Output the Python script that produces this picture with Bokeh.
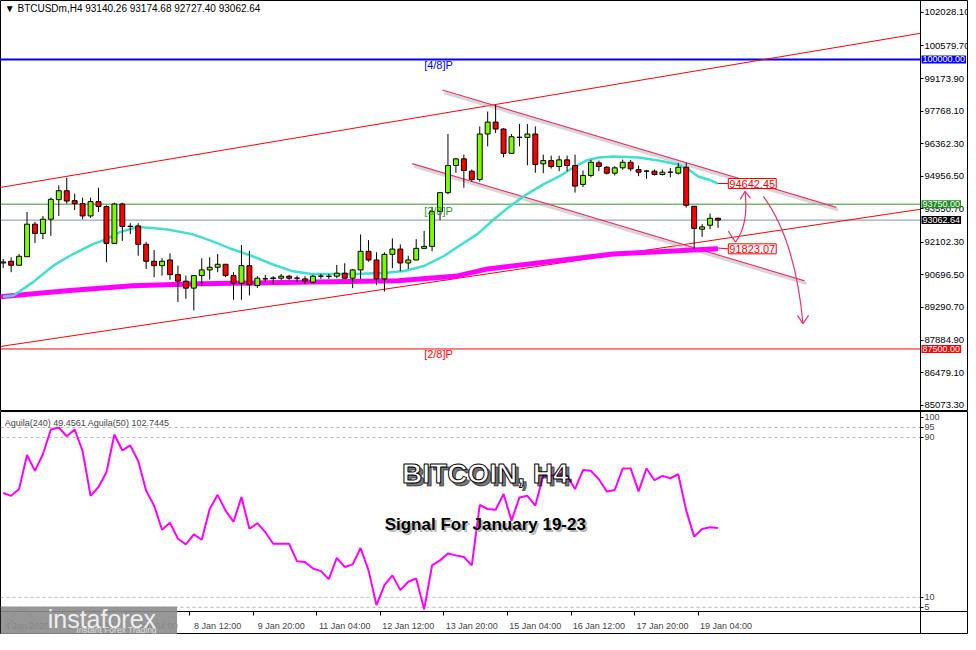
from bokeh.plotting import figure
from bokeh.layouts import column
from bokeh.models import (Range1d, FixedTicker, Label, NumeralTickFormatter, LinearAxis,
                          ColumnDataSource, BoxAnnotation)
from bokeh.embed import file_html
from bokeh.resources import INLINE

FONT = "Liberation Sans"

# ---------------- data ----------------
candle_index = list(range(91))
opens = [91212, 91285, 91113, 91482, 92886, 92487, 93101, 93946, 94332, 93903,
         93774, 93242, 93860, 93646, 92058, 93757, 92787, 92813, 92015, 91285,
         91096, 91341, 90710, 90427, 90126, 90667, 90912, 91027, 91156, 90667,
         90341, 91096, 90238, 90525, 90538, 90555, 90641, 90555, 90525, 90384,
         90641, 90641, 90641, 90770, 90555, 90912, 91714, 91341, 90525, 91585,
         91813, 91212, 91341, 91843, 91929, 93431, 94247, 95418, 95706, 95174,
         94817, 96779, 97294, 96993, 95946, 96633, 96633, 96779, 95491, 95633,
         95375, 95663, 95418, 94603, 94989, 95534, 95345, 95088, 95320, 95560,
         95247, 95174, 95174, 95032, 95131, 95088, 95345, 93659, 92671, 92843,
         93140.26]
highs = [91384, 91457, 91598, 93414, 92985, 93242, 94032, 94560, 94890, 94204,
         94032, 94032, 94461, 93701, 93817, 93817, 92929, 92929, 92126, 91770,
         91414, 91628, 91096, 90667, 90667, 91414, 91457, 91598, 91156, 90813,
         91985, 91740, 90641, 90697, 90641, 90740, 90697, 90667, 90641, 90697,
         90740, 90740, 91126, 91199, 90955, 92444, 92199, 91671, 91671, 92272,
         92015, 91525, 92242, 92598, 93629, 94247, 96779, 95749, 95890, 95247,
         97105, 97749, 98036, 97036, 96779, 97208, 97208, 97105, 95890, 95847,
         95847, 95847, 95890, 95204, 95663, 95633, 95388, 95388, 95676, 95663,
         95418, 95234, 95247, 95247, 95320, 95534, 95534, 93659, 92886, 93345,
         93174.68]
lows = [90998, 90813, 91096, 91482, 92071, 92242, 92384, 93242, 93774, 93500,
        93101, 93156, 93414, 91242, 92058, 92169, 92457, 91525, 90955, 90598,
        90667, 90482, 89525, 89667, 89165, 90212, 90495, 90813, 90598, 89624,
        89624, 89809, 90139, 90384, 90311, 90482, 90482, 90384, 90311, 90341,
        90525, 90525, 90555, 90525, 90126, 90525, 91268, 90268, 89980, 90985,
        90856, 90955, 91341, 91843, 91714, 93058, 94174, 95105, 94461, 94719,
        94719, 96247, 96822, 95774, 95920, 96247, 95431, 95105, 95088, 95290,
        95174, 95174, 94247, 94487, 94916, 95174, 95032, 94989, 95234, 95174,
        94959, 94847, 94989, 94989, 94916, 95032, 93603, 91823, 92341, 92671,
        92727.40]
closes = [91255, 91113, 91500, 92886, 92487, 93101, 93959, 94332, 93886, 93774,
          93242, 93860, 93646, 92058, 93757, 92787, 92800, 92015, 91285, 91096,
          91285, 90710, 90427, 90126, 90667, 90912, 91027, 91156, 90667, 90341,
          91096, 90268, 90555, 90530, 90568, 90641, 90555, 90560, 90427, 90641,
          90645, 90627, 90770, 90555, 90912, 91714, 91341, 90525, 91585, 91813,
          91212, 91341, 91843, 91929, 93431, 94247, 95418, 95706, 95204, 94817,
          96779, 97294, 96993, 95946, 96663, 96640, 96779, 95461, 95633, 95375,
          95663, 95418, 94530, 94989, 95560, 95375, 95088, 95320, 95560, 95277,
          95131, 95180, 95032, 95131, 95135, 95345, 93701, 92702, 92770, 93140,
          93062.64]

# moving averages (sparse readings: candle index, price)
fast_ma_idx = [0, 1.3, 3.8, 6.3, 8.8, 11.3, 13, 14.7, 16.8, 17.5, 20.5, 23.8, 26.3,
               28.8, 31.3, 33.8, 36.3, 38.8, 43.8, 48, 50.5, 53, 55.5, 57.2, 59.7,
               61.8, 63.8, 65.9, 68, 70, 71.8, 73.4, 75, 76.8, 80, 82.5, 85, 86.3,
               87.5, 88.8, 90]
fast_ma_val = [89753, 89809, 90397, 91096, 91598, 92028, 92242, 92543, 92757, 92757,
               92671, 92457, 92156, 91813, 91513, 91169, 90869, 90740, 90740, 90783,
               90869, 91083, 91513, 91899, 92457, 93101, 93659, 94174, 94603, 94946,
               95332, 95633, 95762, 95805, 95762, 95633, 95461, 95247, 94946, 94817,
               94642]
slow_ma_idx = [-0.34, 8, 16.3, 24.7, 33, 41.3, 49.7, 57.2, 61, 76.8, 90]
slow_ma_val = [89753, 90010, 90225, 90311, 90354, 90397, 90440, 90654, 90955, 91598, 91823]

# indicator (Aguila 240)
aguila = [62.2, 60.8, 64.2, 81.2, 73.3, 81.6, 94.0, 95.0, 90.6, 94.0,
          83.2, 60.8, 65.2, 72.6, 91.5, 83.5, 86.0, 78.2, 63.3, 55.9,
          43.8, 47.3, 39.3, 36.5, 41.5, 38.8, 54.2, 61.3, 53.4, 47.8,
          60.2, 44.3, 47.1, 42.6, 36.8, 36.8, 36.8, 28.0, 27.7, 24.4,
          23.1, 19.1, 29.7, 25.2, 26.5, 34.7, 23.5, 6.1, 16.1, 21.0,
          13.6, 17.8, 19.4, 4.0, 26.0, 28.5, 31.9, 31.0, 30.2, 26.0,
          56.2, 54.2, 53.8, 61.7, 48.4, 60.0, 60.8, 55.9, 70.8, 70.8,
          71.6, 70.8, 64.2, 73.7, 73.3, 69.1, 63.0, 63.7, 74.5, 74.5,
          63.0, 74.5, 68.6, 70.8, 69.6, 71.6, 53.4, 40.4, 44.2, 45.1,
          44.7]

price_ticks = [85073.3, 86479.1, 87884.9, 89290.7, 90696.5, 92102.3, 93550.7,
               94956.5, 96362.3, 97768.1, 99173.9, 100579.7, 102028.1]
level_ticks = [5, 10, 90, 95, 100]
level_dashes = [5, 10, 90, 95]

time_tick_idx = [0, 8, 16, 24, 32, 40, 48, 56, 64, 72, 80, 88]
time_labels = ["4 Jan 2025", "5 Jan 20:00", "7 Jan 04:00", "8 Jan 12:00", "9 Jan 20:00",
               "11 Jan 04:00", "12 Jan 12:00", "13 Jan 20:00", "15 Jan 04:00",
               "16 Jan 12:00", "17 Jan 20:00", "19 Jan 04:00"]

murray_levels = [100000.0, 93750.0, 87500.0]
murray_names = ["[4/8]P", "[3/8]P", "[2/8]P"]
murray_colors = ["#0000ff", "#2f9a1f", "#ff0000"]
current_price = 93062.64

# trend lines (candle index, price)
red_x0 = [-0.34, -0.34]
red_y0 = [94474, 87607]
red_x1 = [115.5, 115.5]
red_y1 = [101127, 93530]
pink_x0 = [55.3, 51.5]
pink_y0 = [98680, 95504]
pink_x1 = [104.9, 100.9]
pink_y1 = [93615, 90440]

target_up = 94642.45
target_down = 91823.07

# ---------------- geometry ----------------
X0 = -0.34          # left edge of the chart (candle units)
XA = 115.5          # price axis position
XE = 121.54         # right edge of the page area
W = 968

# ---------------- main price panel ----------------
p = figure(width=W, height=411, x_range=Range1d(X0, XE), y_range=Range1d(84800, 102543),
           output_backend="svg", toolbar_location=None, x_axis_location=None,
           y_axis_location=None, min_border=0)
p.grid.visible = False
p.outline_line_color = "black"

ax = LinearAxis(fixed_location=XA, ticker=FixedTicker(ticks=price_ticks),
                formatter=NumeralTickFormatter(format="0.00"))
ax.major_label_text_font = FONT
ax.major_label_text_font_size = "9.5px"
ax.major_label_text_color = "black"
ax.major_tick_out = 3
ax.major_tick_in = 0
ax.minor_tick_out = 0
ax.minor_tick_in = 0
ax.major_label_standoff = 1
ax.axis_line_color = "black"
p.add_layout(ax, "right")

# horizontal levels (stop at the price axis)
p.segment(x0=[X0] * 3, y0=murray_levels, x1=[XA] * 3, y1=murray_levels,
          line_color=murray_colors, line_width=[2, 1, 1])
p.segment(x0=[X0], y0=[current_price], x1=[XA], y1=[current_price],
          line_color="#8090a8", line_width=1)

# red channel
p.segment(x0=red_x0, y0=red_y0, x1=red_x1, y1=red_y1, line_color="#ff0000", line_width=1)
# pink descending channel with shadow
p.segment(x0=[v + 0.25 for v in pink_x0], y0=[v - 120 for v in pink_y0],
          x1=[v + 0.25 for v in pink_x1], y1=[v - 120 for v in pink_y1],
          line_color="#b0b0b0", line_width=3, line_alpha=0.5)
p.segment(x0=pink_x0, y0=pink_y0, x1=pink_x1, y1=pink_y1, line_color="#e8336a", line_width=1.2)

# moving averages
p.line(slow_ma_idx, slow_ma_val, line_color="#ff00ff", line_width=5)
p.line(fast_ma_idx, fast_ma_val, line_color="#40e0d0", line_width=2.5)

# candles
body_top = [max(o, c) for o, c in zip(opens, closes)]
body_bot = [min(o, c) for o, c in zip(opens, closes)]
body_col = ["#7cfc00" if c > o else ("#ff0000" if c < o else "black")
            for o, c in zip(opens, closes)]
src = ColumnDataSource(dict(x=candle_index, h=highs, l=lows, top=body_top,
                            bottom=body_bot, color=body_col))
p.segment(x0="x", y0="l", x1="x", y1="h", source=src, line_color="black", line_width=1)
p.vbar(x="x", width=0.62, top="top", bottom="bottom", source=src,
       fill_color="color", line_color="black", line_width=1)

# level names
for lvl_y, name, col in zip([99753, 93443, 87263], murray_names, murray_colors):
    p.add_layout(Label(x=53, y=lvl_y, text=name, text_color=col, text_font=FONT,
                       text_font_size="11px", text_baseline="middle"))

# connectors and target boxes
p.segment(x0=[90, 90], y0=[target_up, 91856], x1=[91.3, 91.3], y1=[target_up, target_down],
          line_color="#ff0000", line_width=1)
for ty in [target_up, target_down]:
    p.add_layout(Label(x=91.3, y=ty, text=f"{ty:.2f}", text_color="#ff0000",
                       text_font=FONT, text_font_size="11px", text_baseline="middle",
                       background_fill_color="white", border_line_color="#ff0000",
                       padding=1))

# arrows
p.segment(x0=[91.3], y0=[92586], x1=[92.2], y1=[92113], line_color="#e8336a", line_width=1.2)
p.quadratic(x0=[92.2], y0=[92113], x1=[93.4], y1=[94302], cx=[93.9], cy=[92886],
            line_color="#e8336a", line_width=1.2)
p.segment(x0=[93.4, 93.4], y0=[94302, 94302], x1=[92.8, 94.1], y1=[93959, 94002],
          line_color="#e8336a", line_width=1.2)
p.quadratic(x0=[95.7], y0=[94088], x1=[100.7], y1=[88595], cx=[99.7], cy=[92242],
            line_color="#e8336a", line_width=1.2)
p.segment(x0=[100.7, 100.7], y0=[88595, 88595], x1=[100.0, 101.4], y1=[88952, 88952],
          line_color="#e8336a", line_width=1.2)

# axis price boxes
for val, bg in [(100000.0, "#0000ff"), (93750.0, "#228b22"), (current_price, "black"),
                (87500.0, "#ff0000")]:
    p.add_layout(Label(x=XA, x_offset=1, y=val, text=f"{val:.2f}", text_color="white",
                       text_font=FONT, text_font_size="9px", text_baseline="middle",
                       background_fill_color=bg, padding=1))

# header
p.add_layout(Label(x=0.2, y=102200, text="\u25bc BTCUSDm,H4  93140.26 93174.68 92727.40 93062.64",
                   text_font=FONT, text_font_size="10px", text_baseline="middle",
                   text_color="black"))

# ---------------- indicator panel ----------------
IB = 2.9   # value at the bottom edge of the indicator panel
q = figure(width=W, height=223, x_range=p.x_range, y_range=Range1d(-8.6, 103.0),
           output_backend="svg", toolbar_location=None, x_axis_location=None,
           y_axis_location=None, min_border=0)
q.grid.visible = False
q.outline_line_color = "black"

qa = LinearAxis(fixed_location=XA, ticker=FixedTicker(ticks=level_ticks))
qa.major_label_text_font = FONT
qa.major_label_text_font_size = "9px"
qa.major_tick_out = 3
qa.major_tick_in = 0
qa.minor_tick_out = 0
qa.minor_tick_in = 0
qa.major_label_standoff = 1
qa.axis_line_color = "black"
q.add_layout(qa, "right")

centers = [t + 3 for t in time_tick_idx]
xa = LinearAxis(fixed_location=IB, ticker=FixedTicker(ticks=centers,
                minor_ticks=[t - 0.5 for t in time_tick_idx]))
xa.major_label_overrides = {c: lab for c, lab in zip(centers, time_labels)}
xa.major_label_text_font = FONT
xa.major_label_text_font_size = "9px"
xa.major_tick_out = 0
xa.major_tick_in = 0
xa.minor_tick_out = 4
xa.minor_tick_in = 0
xa.major_label_standoff = 5
xa.axis_line_color = "black"
q.add_layout(xa, "below")

# panel bottom line and level dashes
q.segment(x0=[X0], y0=[IB], x1=[XA], y1=[IB], line_color="black", line_width=1)
q.segment(x0=[X0] * len(level_dashes), y0=level_dashes, x1=[XA] * len(level_dashes),
          y1=level_dashes, line_color="#b8b8b8", line_width=1, line_dash="3 3")

q.line(candle_index, aguila, line_color="#ff00ff", line_width=2)

q.add_layout(Label(x=0.2, y=97.4, text="Aguila(240) 49.4561  Aguila(50) 102.7445",
                   text_font=FONT, text_font_size="9px", text_baseline="middle"))

# titles
q.add_layout(Label(x=60.7, y=72.2, x_offset=3, y_offset=-3, text="BITCOIN, H4",
                   text_font=FONT, text_font_style="bold", text_font_size="28px",
                   text_align="center", text_baseline="middle", text_color="black",
                   text_alpha=0.55, text_outline_color="black"))
q.add_layout(Label(x=60.7, y=72.2, text="BITCOIN, H4", text_font=FONT,
                   text_font_style="bold", text_font_size="28px", text_align="center",
                   text_baseline="middle", text_color="white", text_outline_color="black"))
q.add_layout(Label(x=60.7, y=46.5, x_offset=2, y_offset=-2, text="Signal For January 19-23",
                   text_font=FONT, text_font_style="bold", text_font_size="17px",
                   text_align="center", text_baseline="middle", text_color="#999999",
                   text_alpha=0.7))
q.add_layout(Label(x=60.7, y=46.5, text="Signal For January 19-23", text_font=FONT,
                   text_font_style="bold", text_font_size="17px", text_align="center",
                   text_baseline="middle", text_color="black"))

# logo
q.add_layout(BoxAnnotation(left=X0, right=21.9, bottom=-8.6, top=5.4,
                           fill_color="#8c8c8c", fill_alpha=0.9, line_alpha=0))
q.scatter(x=[2.3], y=[-1.5], marker="circle", size=20, fill_color=None,
          line_color="#dcdcdc", line_width=4)
q.add_layout(Label(x=5.6, y=-1.0, text="instaforex", text_font=FONT,
                   text_font_size="25px", text_color="#eeeeee", text_baseline="middle"))
q.add_layout(Label(x=9.2, y=-6.2, text="Instant Forex Trading", text_font=FONT,
                   text_font_size="8.5px", text_color="#dddddd", text_baseline="middle"))

layout = column(p, q, spacing=0)
open("out.html", "w").write(file_html(layout, INLINE))
